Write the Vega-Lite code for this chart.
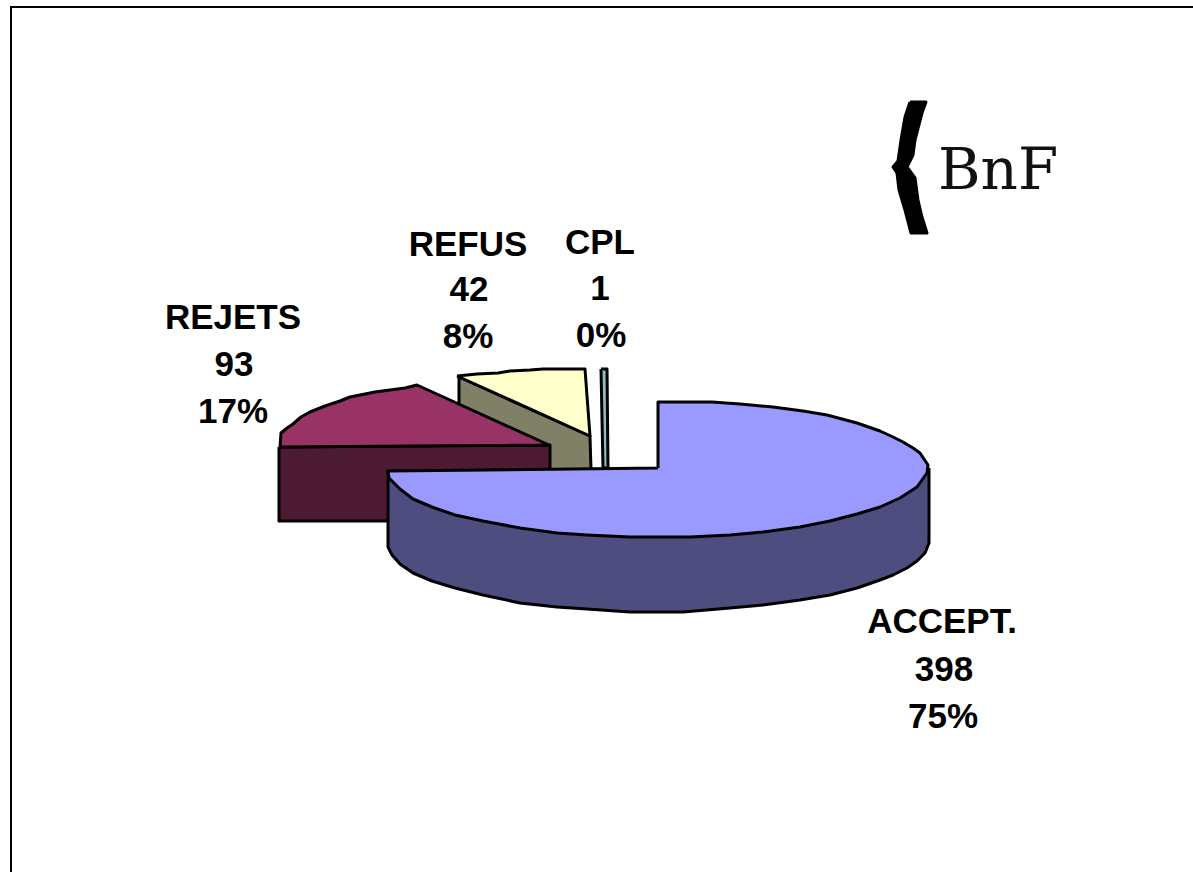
{"$schema":"https://vega.github.io/schema/vega-lite/v6.json","width":1193,"height":872,"padding":0,"autosize":{"type":"none"},"background":"white","view":{"stroke":null},
"datasets":{
"frame":[{"x":11,"y":872,"s":1},{"x":11,"y":7,"s":2},{"x":1193,"y":7,"s":3}],
"shapes":[
{"part":"brace","s":1,"x":910,"y":102},{"part":"brace","s":2,"x":926,"y":102},{"part":"brace","s":3,"x":922,"y":113},{"part":"brace","s":4,"x":915,"y":140},{"part":"brace","s":5,"x":913,"y":155},{"part":"brace","s":6,"x":907,"y":167},{"part":"brace","s":7,"x":915,"y":178},{"part":"brace","s":8,"x":918,"y":200},{"part":"brace","s":9,"x":922,"y":217},{"part":"brace","s":10,"x":927,"y":233},{"part":"brace","s":11,"x":911,"y":233},{"part":"brace","s":12,"x":905,"y":210},{"part":"brace","s":13,"x":899,"y":190},{"part":"brace","s":14,"x":897,"y":173},{"part":"brace","s":15,"x":893,"y":167},{"part":"brace","s":16,"x":898,"y":161},{"part":"brace","s":17,"x":901,"y":140},{"part":"brace","s":18,"x":905,"y":117},{"part":"brace","s":19,"x":910,"y":102},
{"part":"cpl side","s":1,"x":601,"y":369},{"part":"cpl side","s":2,"x":607,"y":369},{"part":"cpl side","s":3,"x":608,"y":468},{"part":"cpl side","s":4,"x":603,"y":468},{"part":"cpl side","s":5,"x":601,"y":369},
{"part":"refus side","s":1,"x":459,"y":377},{"part":"refus side","s":2,"x":590,"y":436},{"part":"refus side","s":3,"x":591,"y":470},{"part":"refus side","s":4,"x":500,"y":470},{"part":"refus side","s":5,"x":459,"y":425},{"part":"refus side","s":6,"x":459,"y":377},
{"part":"refus top","s":1,"x":457,"y":376},{"part":"refus top","s":2,"x":477,"y":374},{"part":"refus top","s":3,"x":498,"y":373},{"part":"refus top","s":4,"x":510,"y":371},{"part":"refus top","s":5,"x":530,"y":370},{"part":"refus top","s":6,"x":543,"y":369},{"part":"refus top","s":7,"x":585,"y":369},{"part":"refus top","s":8,"x":590,"y":436},{"part":"refus top","s":9,"x":457,"y":376},
{"part":"rejets side","s":1,"x":279,"y":447},{"part":"rejets side","s":2,"x":550,"y":445},{"part":"rejets side","s":3,"x":550,"y":521},{"part":"rejets side","s":4,"x":279,"y":521},{"part":"rejets side","s":5,"x":279,"y":447},
{"part":"rejets top","s":1,"x":280,"y":447},{"part":"rejets top","s":2,"x":281,"y":433},{"part":"rejets top","s":3,"x":287,"y":428},{"part":"rejets top","s":4,"x":293,"y":424},{"part":"rejets top","s":5,"x":301,"y":417},{"part":"rejets top","s":6,"x":310,"y":412},{"part":"rejets top","s":7,"x":325,"y":406},{"part":"rejets top","s":8,"x":340,"y":401},{"part":"rejets top","s":9,"x":350,"y":397},{"part":"rejets top","s":10,"x":360,"y":395},{"part":"rejets top","s":11,"x":375,"y":392},{"part":"rejets top","s":12,"x":390,"y":390},{"part":"rejets top","s":13,"x":405,"y":388},{"part":"rejets top","s":14,"x":417,"y":385},{"part":"rejets top","s":15,"x":549,"y":445},{"part":"rejets top","s":16,"x":280,"y":447},
{"part":"accept side","s":1,"x":929,"y":468},{"part":"accept side","s":2,"x":929,"y":543},{"part":"accept side","s":3,"x":925,"y":553},{"part":"accept side","s":4,"x":917,"y":561},{"part":"accept side","s":5,"x":907,"y":568},{"part":"accept side","s":6,"x":893,"y":575},{"part":"accept side","s":7,"x":880,"y":580},{"part":"accept side","s":8,"x":857,"y":588},{"part":"accept side","s":9,"x":830,"y":595},{"part":"accept side","s":10,"x":800,"y":600},{"part":"accept side","s":11,"x":763,"y":605},{"part":"accept side","s":12,"x":730,"y":608},{"part":"accept side","s":13,"x":683,"y":612},{"part":"accept side","s":14,"x":630,"y":612},{"part":"accept side","s":15,"x":587,"y":609},{"part":"accept side","s":16,"x":557,"y":607},{"part":"accept side","s":17,"x":520,"y":603},{"part":"accept side","s":18,"x":483,"y":595},{"part":"accept side","s":19,"x":455,"y":588},{"part":"accept side","s":20,"x":432,"y":581},{"part":"accept side","s":21,"x":413,"y":573},{"part":"accept side","s":22,"x":400,"y":564},{"part":"accept side","s":23,"x":392,"y":555},{"part":"accept side","s":24,"x":388,"y":547},{"part":"accept side","s":25,"x":388,"y":471},{"part":"accept side","s":26,"x":929,"y":468},
{"part":"accept top","s":1,"x":658,"y":468},{"part":"accept top","s":2,"x":658,"y":402},{"part":"accept top","s":3,"x":712,"y":402},{"part":"accept top","s":4,"x":740,"y":404},{"part":"accept top","s":5,"x":773,"y":407},{"part":"accept top","s":6,"x":803,"y":411},{"part":"accept top","s":7,"x":827,"y":415},{"part":"accept top","s":8,"x":857,"y":423},{"part":"accept top","s":9,"x":880,"y":431},{"part":"accept top","s":10,"x":893,"y":437},{"part":"accept top","s":11,"x":903,"y":442},{"part":"accept top","s":12,"x":913,"y":448},{"part":"accept top","s":13,"x":920,"y":453},{"part":"accept top","s":14,"x":928,"y":465},{"part":"accept top","s":15,"x":927,"y":473},{"part":"accept top","s":16,"x":917,"y":487},{"part":"accept top","s":17,"x":900,"y":498},{"part":"accept top","s":18,"x":880,"y":507},{"part":"accept top","s":19,"x":857,"y":514},{"part":"accept top","s":20,"x":830,"y":521},{"part":"accept top","s":21,"x":800,"y":527},{"part":"accept top","s":22,"x":763,"y":532},{"part":"accept top","s":23,"x":730,"y":535},{"part":"accept top","s":24,"x":690,"y":537},{"part":"accept top","s":25,"x":630,"y":537},{"part":"accept top","s":26,"x":587,"y":535},{"part":"accept top","s":27,"x":557,"y":533},{"part":"accept top","s":28,"x":520,"y":528},{"part":"accept top","s":29,"x":483,"y":521},{"part":"accept top","s":30,"x":455,"y":515},{"part":"accept top","s":31,"x":432,"y":507},{"part":"accept top","s":32,"x":413,"y":499},{"part":"accept top","s":33,"x":400,"y":489},{"part":"accept top","s":34,"x":389,"y":478},{"part":"accept top","s":35,"x":388,"y":471},{"part":"accept top","s":36,"x":658,"y":468}
],
"labels":[
{"t":"ACCEPT.","x":942,"y":622},{"t":"398","x":944,"y":670},{"t":"75%","x":943,"y":717},
{"t":"REJETS","x":233,"y":318},{"t":"93","x":234,"y":365},{"t":"17%","x":233,"y":412},
{"t":"REFUS","x":468,"y":245},{"t":"42","x":469,"y":290},{"t":"8%","x":468,"y":337},
{"t":"CPL","x":600,"y":243},{"t":"1","x":600,"y":289},{"t":"0%","x":601,"y":336}
]},
"encoding":{"x":{"field":"x","type":"quantitative","scale":{"domain":[0,1193],"nice":false,"zero":false},"axis":null},"y":{"field":"y","type":"quantitative","scale":{"domain":[872,0],"nice":false,"zero":false},"axis":null}},
"layer":[
{"data":{"name":"frame"},"mark":{"type":"line","stroke":"black","strokeWidth":2,"clip":true},"encoding":{"order":{"field":"s","type":"quantitative"}}},
{"data":{"name":"shapes"},"mark":{"type":"line","stroke":"black","strokeWidth":3,"strokeJoin":"round","interpolate":"linear"},
"encoding":{"detail":{"field":"part"},"order":{"field":"s","type":"quantitative"},
"fill":{"field":"part","type":"nominal","legend":null,"scale":{"domain":["brace","cpl side","refus side","refus top","rejets side","rejets top","accept side","accept top"],"range":["#000000","#8cc0c0","#808066","#ffffcc","#4d1a33","#993366","#4d4d80","#9999ff"]}}}},
{"data":{"name":"labels"},"mark":{"type":"text","font":"Liberation Sans","fontWeight":"bold","fontSize":35,"align":"center","baseline":"middle","color":"black"},"encoding":{"text":{"field":"t"}}},
{"data":{"values":[{"t":"BnF","x":938,"y":189}]},"mark":{"type":"text","font":"DejaVu Serif","fontSize":58,"align":"left","baseline":"alphabetic","color":"#111111"},"encoding":{"text":{"field":"t"}}}
]}
